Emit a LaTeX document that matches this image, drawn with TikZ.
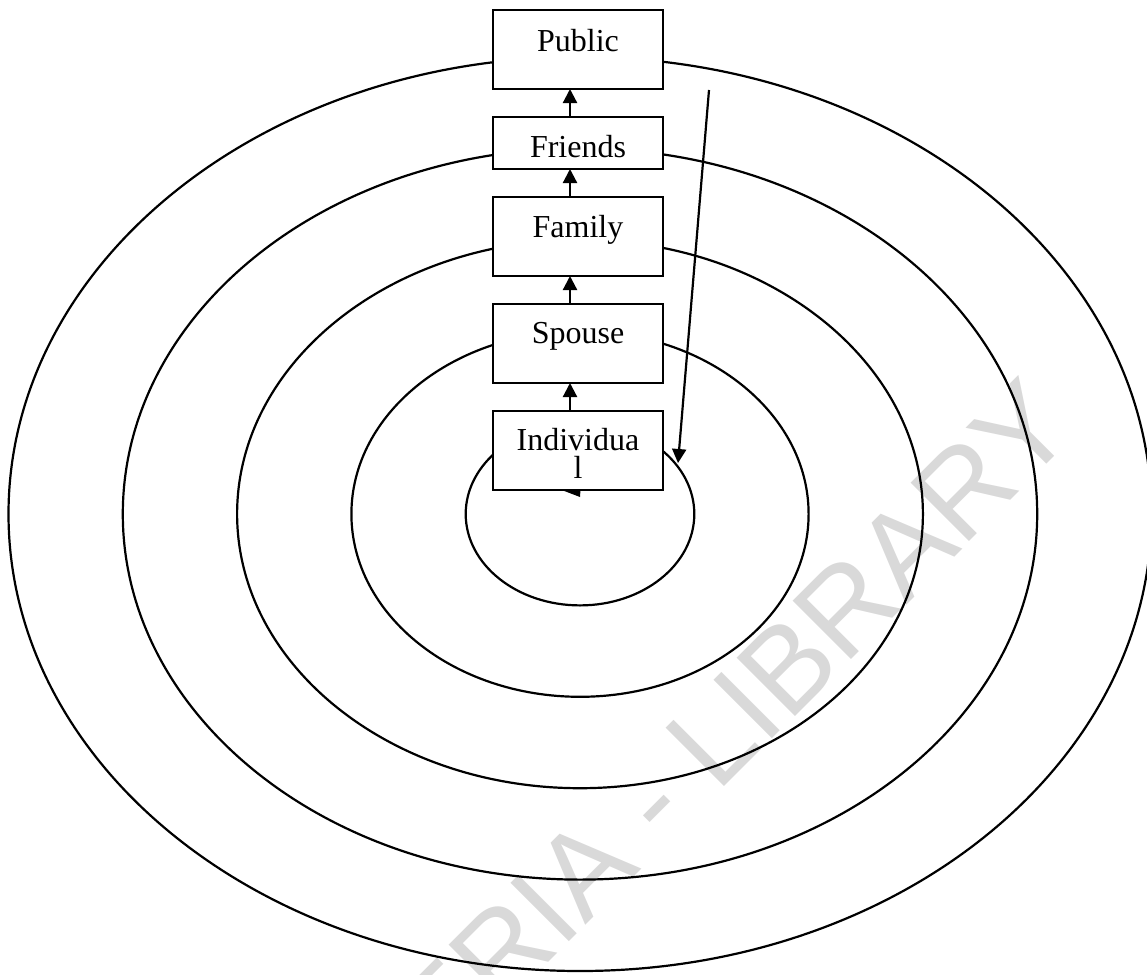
\documentclass[tikz,border=0pt]{standalone}
\usepackage{fontspec}
\setmainfont{Liberation Serif}
\newfontfamily\wmfont{Liberation Sans}
\usetikzlibrary{arrows.meta}
\definecolor{wmgray}{RGB}{217,217,217}
\begin{document}
\begin{tikzpicture}[x=1pt,y=-1pt,
  ring/.style={line width=2.2pt},
  box/.style={draw, fill=white, line width=2.2pt, minimum width=170pt, inner sep=0pt, outer sep=0pt},
  lbl/.style={font=\fontsize{32}{28}\selectfont, inner sep=0pt, anchor=base},
  arr/.style={line width=2.2pt, -{Triangle[length=14pt,width=14pt]}},
  wmtext/.style={font=\wmfont\fontsize{120}{120}\selectfont, text=wmgray, inner sep=0pt}]
\useasboundingbox (0,0) rectangle (1147,974);
\begin{scope}
  \clip (0,0) rectangle (1147,974);
  \node[wmtext, rotate=45, anchor=east] (wm) at (1050,403) {NIGERIA - LIBRARY};
  \foreach \k in {1,...,5}{
    \draw[ring] (580,514) ellipse [x radius={114.3*\k}, y radius={91.4*\k}];
  }
\end{scope}
% partial arrow tip below the Individual box
\fill (563,490.5) -- (581,482) -- (580,497) -- cycle;
% boxes
\node[box, minimum height=79pt] (pub) at (578,49.5) {};
\node[box, minimum height=52pt] (fri) at (578,143) {};
\node[box, minimum height=79pt] (fam) at (578,236.5) {};
\node[box, minimum height=79pt] (spo) at (578,343.5) {};
\node[box, minimum height=79pt] (ind) at (578,450.5) {};
% labels
\node[lbl] (tpub) at ([yshift=-42pt]pub.north) {Public};
\node[lbl] (tfri) at ([yshift=-40pt]fri.north) {Friends};
\node[lbl] (tfam) at ([yshift=-40pt]fam.north) {Family};
\node[lbl] (tspo) at ([yshift=-39pt]spo.north) {Spouse};
\node[lbl, anchor=north, align=center] (tind) at ([yshift=-17.5pt]ind.north) {Individua\\l};
% arrows between boxes
\draw[arr] ([xshift=-8pt]ind.north) -- ([xshift=-8pt]spo.south);
\draw[arr] ([xshift=-8pt]spo.north) -- ([xshift=-8pt]fam.south);
\draw[arr] ([xshift=-8pt]fam.north) -- ([xshift=-8pt]fri.south);
\draw[arr] ([xshift=-8pt]fri.north) -- ([xshift=-8pt]pub.south);
% long arrow
\coordinate (ls) at (709,90);
\coordinate (le) at (678,463);
\draw[arr] (ls) -- (le);
\end{tikzpicture}
\end{document}
